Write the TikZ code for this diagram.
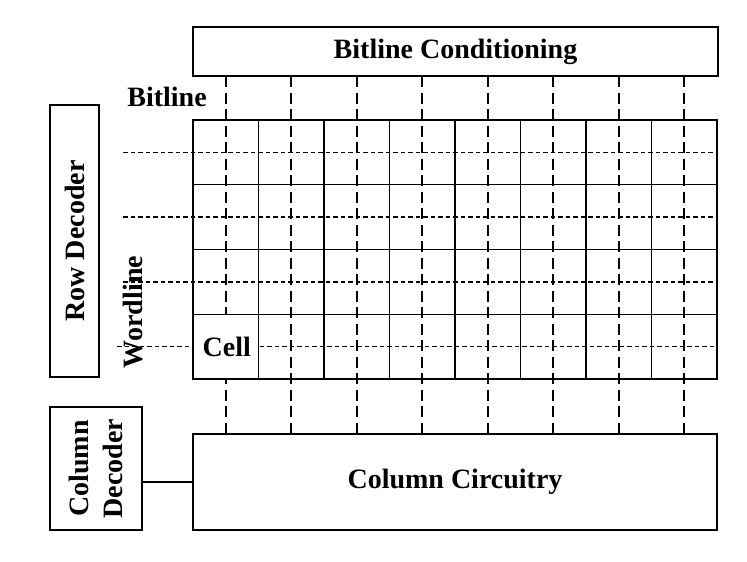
\documentclass[tikz,border=0pt]{standalone}
\usepackage{fontspec}
\setmainfont{Liberation Serif}
\begin{document}
\begin{tikzpicture}[x=1pt,y=-1pt,
  box/.style={draw,line width=1.3pt,inner sep=0pt,outer sep=0pt,fill=white},
  lbl/.style={font=\fontsize{28}{34}\selectfont\bfseries,inner sep=0pt,align=center},
  bitdash/.style={line width=1.7pt,dash pattern=on 11pt off 5.5pt},
  worddash/.style={line width=1.6pt,dash pattern=on 4.5pt off 3pt},
  gridline/.style={line width=1.2pt}]
\useasboundingbox (0,0) rectangle (747,562);
% boxes
\node[box,minimum width=525pt,minimum height=49pt] (bc) at (455.5,51.5) {};
\node[lbl] (bct) at (bc.center) {Bitline Conditioning};
\node[box,minimum width=49pt,minimum height=272pt] (rd) at (74.5,241) {};
\node[lbl,rotate=90] (rdt) at (rd.center) {Row Decoder};
\node[box,minimum width=92pt,minimum height=123pt] (cd) at (96,468.5) {};
\node[lbl,rotate=90] (cdt) at (cd.center) {Column\\Decoder};
\node[box,minimum width=524pt,minimum height=96pt] (cc) at (455,482) {};
\node[lbl] (cct) at (cc.center) {Column Circuitry};
% grid corners
\coordinate (g0) at (193,120);
\coordinate (g1) at (717,379);
% bitlines
\foreach \i in {0,...,7}{
  \coordinate (bt\i) at ({193+65.5*(\i+0.5)},76);
  \draw[bitdash] (bt\i) -- (bt\i |- cc.north);
}
% wordlines
\foreach \j/\s in {0/123,1/123,2/123,3/117}{
  \coordinate (wl\j) at (\s,{120+64.75*(\j+0.5)});
  \draw[worddash] (wl\j) -- (wl\j -| g1);
}
% cell highlight
\node[draw,gridline,fill=white,inner sep=0pt,outer sep=0pt,minimum width=65.5pt,minimum height=64.75pt,anchor=north west] (cell) at (193,314.25) {};
\node[lbl] (cellt) at ([xshift=1pt]cell.center) {Cell};
% grid
\draw[gridline] (g0) rectangle (g1);
\foreach \i in {1,...,7}{
  \draw[gridline] ({193+65.5*\i},120) -- ({193+65.5*\i},379);
}
\foreach \j in {1,2,3}{
  \draw[gridline] (193,{120+64.75*\j}) -- (717,{120+64.75*\j});
}
% labels
\node[lbl] (blt) at (167,97) {Bitline};
\node[lbl,rotate=90] (wlt) at (133,312) {Wordline};
% connector
\draw[line width=1.3pt] (cc.west) -- (cc.west -| cd.east);
\end{tikzpicture}
\end{document}
